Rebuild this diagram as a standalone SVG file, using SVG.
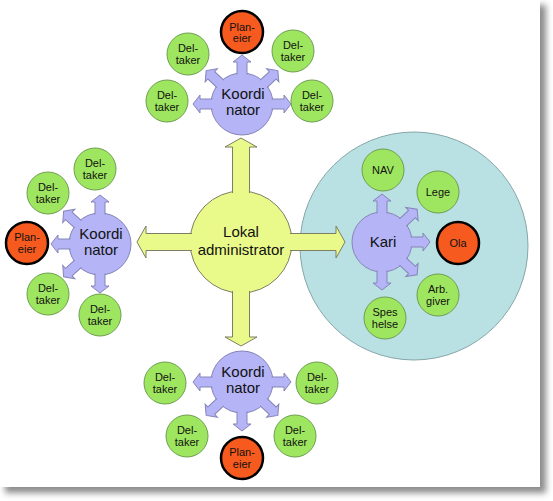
<svg xmlns="http://www.w3.org/2000/svg" xmlns:xlink="http://www.w3.org/1999/xlink" width="553" height="501" viewBox="0 0 553 501">
<style>
.lil{fill:#B4B4F7;stroke:#8585B8;stroke-width:1}
.grn{fill:#9FE660;stroke:#6E9E52;stroke-width:1}
.red{fill:#F75A1E;stroke:#000;stroke-width:2.5}
.yel{fill:#EAFA8A;stroke:#7E7E62;stroke-width:1}
.teal{fill:#B9E0E2;stroke:#86A6A8;stroke-width:1}
text{font-family:"Liberation Sans",Arial,sans-serif;text-anchor:middle;fill:#111}
.s{font-size:11px}
.m{font-size:15px}
</style>
<defs>
<filter id="sh" x="-5%" y="-5%" width="110%" height="110%"><feGaussianBlur stdDeviation="3"/></filter>
<path id="sa" d="M29.5,-5 H42 V-9 L49,0 L42,9 V5 H29.5"/>
<path id="ka" d="M28.5,-5 H41 V-9 L48,0 L41,9 V5 H28.5"/>
<path id="ya" d="M49,-8.5 H95 V-16 L104,0 L95,16 V8.5 H49"/>
</defs>
<g id="frame">
<rect x="5" y="5" width="541" height="488" fill="#666" opacity="0.75" filter="url(#sh)"/>
<rect x="0" y="0" width="540" height="487" fill="#fff"/>
</g>
<g id="group-kari"><circle class="teal" cx="414" cy="246" r="114"/></g>

<g id="lokal"><circle class="yel" cx="241" cy="242" r="51"/></g>
<g id="koord-top"><circle class="lil" cx="242" cy="104" r="31"/></g>
<g id="koord-left"><circle class="lil" cx="100" cy="244" r="31"/></g>
<g id="koord-bottom"><circle class="lil" cx="242" cy="382" r="31"/></g>
<g id="kari"><circle class="lil" cx="382" cy="242" r="30"/></g>

<g id="connectors">
<use href="#ya" class="yel" transform="translate(241,242) rotate(-90)"/>
<use href="#ya" class="yel" transform="translate(241,242) rotate(90)"/>
<use href="#ya" class="yel" transform="translate(241,242) rotate(180)"/>
<use href="#ya" class="yel" transform="translate(241,242)"/>
<use href="#sa" class="lil" transform="translate(242,104) rotate(-90)"/>
<use href="#sa" class="lil" transform="translate(242,104) rotate(-137)"/>
<use href="#sa" class="lil" transform="translate(242,104) rotate(-43)"/>
<use href="#sa" class="lil" transform="translate(242,104) rotate(180)"/>
<use href="#sa" class="lil" transform="translate(242,104)"/>
<use href="#sa" class="lil" transform="translate(100,244) rotate(180)"/>
<use href="#sa" class="lil" transform="translate(100,244) rotate(-90)"/>
<use href="#sa" class="lil" transform="translate(100,244) rotate(90)"/>
<use href="#sa" class="lil" transform="translate(100,244) rotate(-138)"/>
<use href="#sa" class="lil" transform="translate(100,244) rotate(138)"/>
<use href="#sa" class="lil" transform="translate(242,382) rotate(180)"/>
<use href="#sa" class="lil" transform="translate(242,382)"/>
<use href="#sa" class="lil" transform="translate(242,382) rotate(90)"/>
<use href="#sa" class="lil" transform="translate(242,382) rotate(137)"/>
<use href="#sa" class="lil" transform="translate(242,382) rotate(43)"/>
<use href="#ka" class="lil" transform="translate(382,242) rotate(-90)"/>
<use href="#ka" class="lil" transform="translate(382,242) rotate(-43)"/>
<use href="#ka" class="lil" transform="translate(382,242)"/>
<use href="#ka" class="lil" transform="translate(382,242) rotate(43)"/>
<use href="#ka" class="lil" transform="translate(382,242) rotate(90)"/>
</g>

<g id="labels-hubs">
<text class="m" x="241" y="237">Lokal</text>
<text class="m" x="241" y="255">administrator</text>
<text class="m" x="243" y="99">Koordi</text>
<text class="m" x="243" y="115">nator</text>
<text class="m" x="101" y="239">Koordi</text>
<text class="m" x="101" y="255">nator</text>
<text class="m" x="243" y="377">Koordi</text>
<text class="m" x="243" y="393">nator</text>
<text class="m" x="383" y="247">Kari</text>
</g>

<!-- top cluster -->
<g id="t-plan"><circle class="red" cx="242" cy="32" r="21"/><text class="s" x="242" y="31">Plan-</text><text class="s" x="242" y="42">eier</text></g>
<g id="t-d1"><circle class="grn" cx="188" cy="54" r="21"/><text class="s" x="188" y="52">Del-</text><text class="s" x="188" y="64">taker</text></g>
<g id="t-d2"><circle class="grn" cx="293" cy="51" r="21"/><text class="s" x="293" y="49">Del-</text><text class="s" x="293" y="61">taker</text></g>
<g id="t-d3"><circle class="grn" cx="167" cy="101" r="21"/><text class="s" x="167" y="99">Del-</text><text class="s" x="167" y="111">taker</text></g>
<g id="t-d4"><circle class="grn" cx="312" cy="101" r="21"/><text class="s" x="312" y="99">Del-</text><text class="s" x="312" y="111">taker</text></g>

<!-- left cluster -->
<g id="l-plan"><circle class="red" cx="27" cy="243" r="21"/><text class="s" x="27" y="241">Plan-</text><text class="s" x="27" y="253">eier</text></g>
<g id="l-d1"><circle class="grn" cx="95" cy="169" r="21"/><text class="s" x="95" y="167">Del-</text><text class="s" x="95" y="179">taker</text></g>
<g id="l-d2"><circle class="grn" cx="48" cy="193" r="21"/><text class="s" x="48" y="191">Del-</text><text class="s" x="48" y="203">taker</text></g>
<g id="l-d3"><circle class="grn" cx="48" cy="294" r="21"/><text class="s" x="48" y="292">Del-</text><text class="s" x="48" y="304">taker</text></g>
<g id="l-d4"><circle class="grn" cx="100" cy="315" r="21"/><text class="s" x="100" y="313">Del-</text><text class="s" x="100" y="325">taker</text></g>

<!-- bottom cluster -->
<g id="b-d1"><circle class="grn" cx="165" cy="383" r="21"/><text class="s" x="165" y="381">Del-</text><text class="s" x="165" y="393">taker</text></g>
<g id="b-d2"><circle class="grn" cx="317" cy="383" r="21"/><text class="s" x="317" y="381">Del-</text><text class="s" x="317" y="393">taker</text></g>
<g id="b-d3"><circle class="grn" cx="187" cy="436" r="21"/><text class="s" x="187" y="434">Del-</text><text class="s" x="187" y="446">taker</text></g>
<g id="b-d4"><circle class="grn" cx="295" cy="436" r="21"/><text class="s" x="295" y="434">Del-</text><text class="s" x="295" y="446">taker</text></g>
<g id="b-plan"><circle class="red" cx="242" cy="458" r="21"/><text class="s" x="242" y="456">Plan-</text><text class="s" x="242" y="468">eier</text></g>

<!-- right cluster -->
<g id="r-nav"><circle class="grn" cx="383" cy="170" r="21"/><text class="s" x="383" y="174">NAV</text></g>
<g id="r-lege"><circle class="grn" cx="438" cy="192" r="21"/><text class="s" x="438" y="196">Lege</text></g>
<g id="r-ola"><circle class="red" cx="458" cy="243" r="21"/><text class="s" x="458" y="247">Ola</text></g>
<g id="r-arb"><circle class="grn" cx="438" cy="295" r="21"/><text class="s" x="438" y="293">Arb.</text><text class="s" x="438" y="305">giver</text></g>
<g id="r-spes"><circle class="grn" cx="385" cy="318" r="21"/><text class="s" x="385" y="316">Spes</text><text class="s" x="385" y="328">helse</text></g>
</svg>
